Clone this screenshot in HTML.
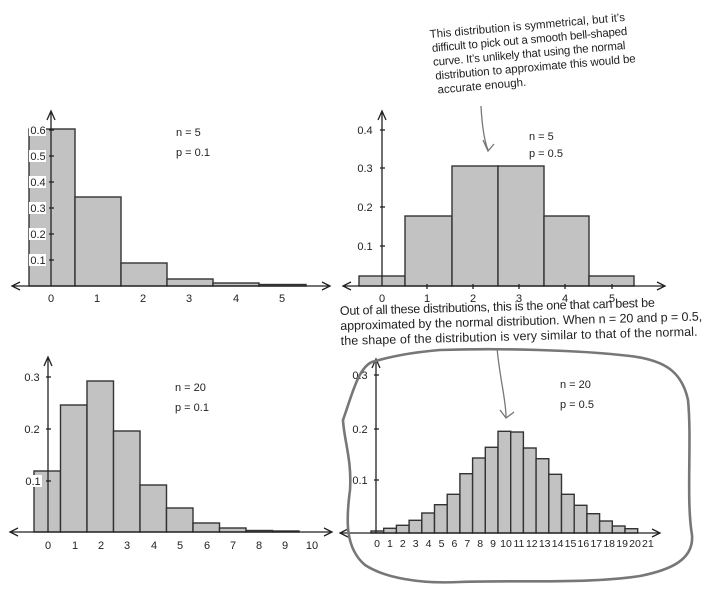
<!DOCTYPE html>
<html><head><meta charset="utf-8"><style>
html,body{margin:0;padding:0;background:#fff;}
svg{display:block;}
text{font-family:"Liberation Sans",sans-serif;fill:#222;}
.t{font-size:11px;}
.h{font-size:11.5px;fill:#555;font-family:"Liberation Sans Narrow","Liberation Sans",sans-serif;}
.b{fill:#c2c2c2;stroke:#333;stroke-width:1.4;}
.ax{stroke:#222;stroke-width:1.3;fill:none;}
</style></head><body>
<svg width="708" height="596" viewBox="0 0 708 596" xmlns="http://www.w3.org/2000/svg">
<!-- Chart 1 -->
<g>
<rect class="b" x="29" y="129" width="46" height="157"/>
<rect class="b" x="75" y="197" width="46" height="89"/>
<rect class="b" x="121" y="263" width="46" height="23"/>
<rect class="b" x="167" y="279" width="46" height="7"/>
<rect class="b" x="213" y="283" width="46" height="3"/>
<rect class="b" x="259" y="284.5" width="47" height="1.5"/>
<line class="ax" x1="51" y1="286" x2="51" y2="112"/><path class="ax" d="M47 120 L51 111 L55 120"/>
<line class="ax" x1="12" y1="286" x2="330" y2="286"/><path class="ax" d="M20 282 L12 286 L20 290 M322 282 L330 286 L322 290"/>
<g class="ax"><line x1="49" y1="130" x2="54" y2="130"/><line x1="49" y1="156" x2="54" y2="156"/><line x1="49" y1="182" x2="54" y2="182"/><line x1="49" y1="208" x2="54" y2="208"/><line x1="49" y1="234" x2="54" y2="234"/><line x1="49" y1="260" x2="54" y2="260"/></g>
<g class="t" text-anchor="middle">
<rect x="29" y="124" width="17" height="12" fill="#fff"/><text x="38" y="134">0.6</text>
<rect x="29" y="150" width="17" height="12" fill="#fff"/><text x="38" y="160">0.5</text>
<rect x="29" y="176" width="17" height="12" fill="#fff"/><text x="38" y="186">0.4</text>
<rect x="29" y="202" width="17" height="12" fill="#fff"/><text x="38" y="212">0.3</text>
<rect x="29" y="228" width="17" height="12" fill="#fff"/><text x="38" y="238">0.2</text>
<rect x="29" y="254" width="17" height="12" fill="#fff"/><text x="38" y="264">0.1</text>
<text x="51" y="302">0</text><text x="97" y="302">1</text><text x="143" y="302">2</text><text x="189" y="302">3</text><text x="236" y="302">4</text><text x="282" y="302">5</text>
</g>
<text class="t" x="176" y="136">n = 5</text><text class="t" x="176" y="156">p = 0.1</text>
</g>
<!-- Chart 2 -->
<g>
<rect class="b" x="359" y="276" width="46" height="10"/>
<rect class="b" x="405" y="216" width="47" height="70"/>
<rect class="b" x="452" y="166" width="46" height="120"/>
<rect class="b" x="498" y="166" width="46" height="120"/>
<rect class="b" x="544" y="216" width="45" height="70"/>
<rect class="b" x="589" y="276" width="45" height="10"/>
<line class="ax" x1="382" y1="286" x2="382" y2="112"/><path class="ax" d="M378 120 L382 111 L386 120"/>
<line class="ax" x1="343" y1="286" x2="665" y2="286"/><path class="ax" d="M351 282 L343 286 L351 290 M657 282 L665 286 L657 290"/>
<g class="ax"><line x1="380" y1="130" x2="385" y2="130"/><line x1="380" y1="168" x2="385" y2="168"/><line x1="380" y1="207" x2="385" y2="207"/><line x1="380" y1="246" x2="385" y2="246"/>
<line x1="427" y1="284" x2="427" y2="289"/><line x1="473" y1="284" x2="473" y2="289"/><line x1="519" y1="284" x2="519" y2="289"/><line x1="565" y1="284" x2="565" y2="289"/><line x1="612" y1="284" x2="612" y2="289"/></g>
<g class="t" text-anchor="middle">
<text x="365" y="134">0.4</text><text x="365" y="172">0.3</text><text x="365" y="211">0.2</text><text x="365" y="250">0.1</text>
<text x="382" y="302">0</text><text x="427" y="302">1</text><text x="473" y="302">2</text><text x="519" y="302">3</text><text x="565" y="302">4</text><text x="612" y="302">5</text>
</g>
<text class="t" x="529" y="140">n = 5</text><text class="t" x="529" y="157">p = 0.5</text>
</g>
<!-- Chart 3 -->
<g>
<rect class="b" x="34" y="471" width="26.5" height="61"/>
<rect class="b" x="60.5" y="405" width="26.5" height="127"/>
<rect class="b" x="87" y="381" width="26.5" height="151"/>
<rect class="b" x="113.5" y="431" width="26.5" height="101"/>
<rect class="b" x="140" y="485" width="26.5" height="47"/>
<rect class="b" x="166.5" y="508" width="26.5" height="24"/>
<rect class="b" x="193" y="523" width="26.5" height="9"/>
<rect class="b" x="219.5" y="528" width="26.5" height="4"/>
<rect class="b" x="246" y="530.5" width="26.5" height="1.5"/>
<rect class="b" x="272.5" y="531" width="26.5" height="1"/>
<line class="ax" x1="48" y1="532" x2="48" y2="358"/><path class="ax" d="M44 366 L48 357 L52 366"/>
<line class="ax" x1="10" y1="532" x2="332" y2="532"/><path class="ax" d="M18 528 L10 532 L18 536 M324 528 L332 532 L324 536"/>
<g class="ax"><line x1="46" y1="377" x2="51" y2="377"/><line x1="46" y1="429" x2="51" y2="429"/><line x1="46" y1="481" x2="51" y2="481"/></g>
<g class="t" text-anchor="middle">
<text x="32" y="381">0.3</text><text x="32" y="433">0.2</text>
<rect x="25" y="475" width="17" height="12" fill="#fff"/><text x="33" y="485">0.1</text>
<text x="48" y="549">0</text><text x="75" y="549">1</text><text x="101" y="549">2</text><text x="127" y="549">3</text><text x="154" y="549">4</text><text x="180" y="549">5</text><text x="207" y="549">6</text><text x="233" y="549">7</text><text x="259" y="549">8</text><text x="285" y="549">9</text><text x="312" y="549">10</text>
</g>
<text class="t" x="175" y="391">n = 20</text><text class="t" x="175" y="411">p = 0.1</text>
</g>
<!-- Chart 4 -->
<g>
<rect class="b" x="371" y="531" width="12.7" height="2"/>
<rect class="b" x="383.7" y="528.3" width="12.7" height="4.7"/>
<rect class="b" x="396.4" y="525.3" width="12.7" height="7.7"/>
<rect class="b" x="409.1" y="520.3" width="12.7" height="12.7"/>
<rect class="b" x="421.8" y="513" width="12.7" height="20"/>
<rect class="b" x="434.5" y="504.7" width="12.7" height="28.3"/>
<rect class="b" x="447.2" y="494.3" width="12.7" height="38.7"/>
<rect class="b" x="459.9" y="473.7" width="12.7" height="59.3"/>
<rect class="b" x="472.6" y="458" width="12.7" height="75"/>
<rect class="b" x="485.3" y="447.3" width="12.7" height="85.7"/>
<rect class="b" x="498" y="431.3" width="12.7" height="101.7"/>
<rect class="b" x="510.7" y="432" width="12.7" height="101"/>
<rect class="b" x="523.4" y="448" width="12.7" height="85"/>
<rect class="b" x="536.1" y="458.7" width="12.7" height="74.3"/>
<rect class="b" x="548.8" y="474.3" width="12.7" height="58.7"/>
<rect class="b" x="561.5" y="494.3" width="12.7" height="38.7"/>
<rect class="b" x="574.2" y="505.3" width="12.7" height="27.7"/>
<rect class="b" x="586.9" y="513.7" width="12.7" height="19.3"/>
<rect class="b" x="599.6" y="521" width="12.7" height="12"/>
<rect class="b" x="612.3" y="526" width="12.7" height="7"/>
<rect class="b" x="625" y="528.7" width="12.7" height="4.3"/>
<line class="ax" x1="376" y1="533" x2="376" y2="360"/><path class="ax" d="M372 368 L376 359 L380 368"/>
<line class="ax" x1="340" y1="533" x2="660" y2="533"/><path class="ax" d="M348 529 L340 533 L348 537 M652 529 L660 533 L652 537"/>
<g class="ax"><line x1="374" y1="375" x2="379" y2="375"/><line x1="374" y1="429" x2="379" y2="429"/><line x1="374" y1="480" x2="379" y2="480"/></g>
<g class="t" text-anchor="middle">
<text x="360" y="379">0.3</text><text x="360" y="433">0.2</text><text x="360" y="484">0.1</text>
</g>
<g class="t" text-anchor="middle" style="font-size:10.5px">
<text x="377" y="547">0</text><text x="389.9" y="547">1</text><text x="402.8" y="547">2</text><text x="415.7" y="547">3</text><text x="428.6" y="547">4</text><text x="441.5" y="547">5</text><text x="454.4" y="547">6</text><text x="467.3" y="547">7</text><text x="480.2" y="547">8</text><text x="493.1" y="547">9</text><text x="506" y="547">10</text><text x="518.9" y="547">11</text><text x="531.8" y="547">12</text><text x="544.7" y="547">13</text><text x="557.6" y="547">14</text><text x="570.5" y="547">15</text><text x="583.4" y="547">16</text><text x="596.3" y="547">17</text><text x="609.2" y="547">18</text><text x="622.1" y="547">19</text><text x="635" y="547">20</text><text x="647.9" y="547">21</text>
</g>
<text class="t" x="560" y="388">n = 20</text><text class="t" x="560" y="408">p = 0.5</text>
</g>
<!-- Loop -->
<path d="M343 420 C352 395 358 368 372 362 C392 356 415 352 440 350 C500 348 580 350 630 356 C665 360 682 372 688 400 C692 440 686 500 692 535 C694 560 670 570 640 576 C590 584 520 580 460 582 C420 584 385 578 365 565 C345 548 346 520 350 490 C352 460 344 440 343 420 Z" fill="none" stroke="#777" stroke-width="2.6"/>
<!-- Annotations -->
<g transform="rotate(-5 430 38)" class="h">
<text x="430" y="38" textLength="196">This distribution is symmetrical, but it’s</text>
<text x="431" y="52" textLength="196">difficult to pick out a smooth bell-shaped</text>
<text x="431" y="66" textLength="193">curve. It’s unlikely that using the normal</text>
<text x="432" y="80" textLength="201">distribution to approximate this would be</text>
<text x="433" y="94">accurate enough.</text>
</g>
<path d="M481 106 C482 125 484 140 488 150 M483 140 L488 151 L494 144" fill="none" stroke="#777" stroke-width="1.3"/>
<g transform="rotate(-1.5 340 315)" class="h" style="font-size:12.5px">
<text x="340" y="315" textLength="315">Out of all these distributions, this is the one that can best be</text>
<text x="340" y="330" textLength="362">approximated by the normal distribution. When n = 20 and p = 0.5,</text>
<text x="340" y="345" textLength="357">the shape of the distribution is very similar to that of the normal.</text>
</g>
<path d="M497 348 C500 380 506 400 506 417 M500 410 L506 418 L514 412" fill="none" stroke="#777" stroke-width="1.3"/>
</svg>
</body></html>
